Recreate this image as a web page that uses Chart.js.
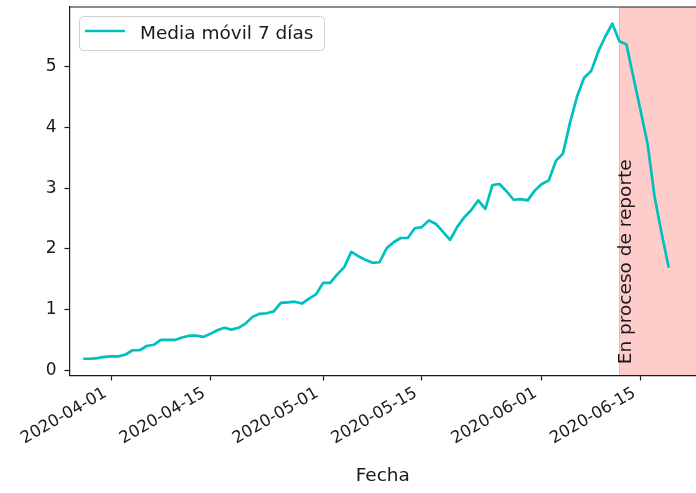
<!DOCTYPE html>
<html><head><meta charset="utf-8">
<script src="https://cdn.jsdelivr.net/npm/chart.js@4.4.1/dist/chart.umd.min.js"></script>
<style>html,body{margin:0;padding:0;background:#fff;overflow:hidden}</style>
</head><body>
<canvas id="c" width="696" height="493"></canvas>
<script>
// ---- data ----
const dates = [
 '2020-03-28','2020-03-29','2020-03-30','2020-03-31','2020-04-01','2020-04-02','2020-04-03','2020-04-04','2020-04-05','2020-04-06',
 '2020-04-07','2020-04-08','2020-04-09','2020-04-10','2020-04-11','2020-04-12','2020-04-13','2020-04-14','2020-04-15','2020-04-16',
 '2020-04-17','2020-04-18','2020-04-19','2020-04-20','2020-04-21','2020-04-22','2020-04-23','2020-04-24','2020-04-25','2020-04-26',
 '2020-04-27','2020-04-28','2020-04-29','2020-04-30','2020-05-01','2020-05-02','2020-05-03','2020-05-04','2020-05-05','2020-05-06',
 '2020-05-07','2020-05-08','2020-05-09','2020-05-10','2020-05-11','2020-05-12','2020-05-13','2020-05-14','2020-05-15','2020-05-16',
 '2020-05-17','2020-05-18','2020-05-19','2020-05-20','2020-05-21','2020-05-22','2020-05-23','2020-05-24','2020-05-25','2020-05-26',
 '2020-05-27','2020-05-28','2020-05-29','2020-05-30','2020-05-31','2020-06-01','2020-06-02','2020-06-03','2020-06-04','2020-06-05',
 '2020-06-06','2020-06-07','2020-06-08','2020-06-09','2020-06-10','2020-06-11','2020-06-12','2020-06-13','2020-06-14','2020-06-15',
 '2020-06-16','2020-06-17','2020-06-18','2020-06-19'
];
const movingAvg = [
 0.19,0.19,0.20,0.22,0.23,0.23,0.26,0.33,0.33,0.40,
 0.42,0.50,0.50,0.50,0.54,0.57,0.57,0.55,0.60,0.66,
 0.70,0.67,0.70,0.77,0.88,0.93,0.94,0.97,1.11,1.12,
 1.13,1.10,1.18,1.25,1.44,1.44,1.58,1.70,1.95,1.88,
 1.82,1.77,1.78,2.01,2.11,2.18,2.18,2.34,2.36,2.47,
 2.41,2.28,2.15,2.36,2.52,2.64,2.80,2.66,3.05,3.07,
 2.95,2.81,2.82,2.80,2.96,3.07,3.13,3.45,3.57,4.08,
 4.51,4.82,4.93,5.25,5.50,5.71,5.42,5.37,4.82,4.28,
 3.73,2.85,2.25,1.69
];
const seriesLabel = 'Media móvil 7 días';
const xTickDates = ['2020-04-01','2020-04-15','2020-05-01','2020-05-15','2020-06-01','2020-06-15'];
const yTickValues = [0,1,2,3,4,5];
const spanStart = '2020-06-12';
const spanEnd = '2020-06-30';
const spanText = 'En proceso de reporte';
const xAxisTitle = 'Fecha';

// ---- helpers ----
const REF = Date.UTC(2020,3,1);
function dayNum(s){ const p=s.split('-').map(Number); return (Date.UTC(p[0],p[1]-1,p[2])-REF)/86400000; }
const points = dates.map((d,i)=>({x: dayNum(d), y: movingAvg[i]}));
const xTickVals = xTickDates.map(dayNum);

const FONT = 'DejaVu Sans';
const LINE_COLOR = '#00bfbf';
const AX = '#1a1a1a';

const decor = {
  id: 'decor',
  beforeDatasetsDraw(chart){
    const {ctx, chartArea:a, scales:{x,y}} = chart;
    const x0 = x.getPixelForValue(dayNum(spanStart));
    const x1 = Math.min(x.getPixelForValue(dayNum(spanEnd)), a.right);
    ctx.save();
    ctx.beginPath(); ctx.rect(a.left, a.top, a.right-a.left, a.bottom-a.top); ctx.clip();
    ctx.fillStyle = 'rgba(255,0,0,0.2)';
    ctx.fillRect(x0, a.top, x1-x0, a.bottom-a.top);
    ctx.strokeStyle = 'rgba(255,0,0,0.22)'; ctx.lineWidth = 1;
    ctx.beginPath(); ctx.moveTo(Math.round(x0)+0.5, a.top); ctx.lineTo(Math.round(x0)+0.5, a.bottom); ctx.stroke();
    ctx.translate(x0 - 2, y.getPixelForValue(0.1));
    ctx.rotate(-Math.PI/2);
    ctx.fillStyle = '#1a1a1a';
    ctx.font = '18.5px "' + FONT + '"';
    ctx.textAlign = 'left'; ctx.textBaseline = 'top';
    ctx.fillText(spanText, 0, 0);
    ctx.restore();
  },
  afterDraw(chart){
    const {ctx, chartArea:a} = chart;
    ctx.save();
    ctx.strokeStyle = AX; ctx.lineWidth = 1.2;
    ctx.beginPath(); ctx.moveTo(a.left, a.top); ctx.lineTo(a.right, a.top); ctx.stroke();
    const lx=79.5, ly=16.5, lw=245, lh=34, r=4;
    ctx.beginPath();
    ctx.moveTo(lx+r,ly); ctx.lineTo(lx+lw-r,ly); ctx.quadraticCurveTo(lx+lw,ly,lx+lw,ly+r);
    ctx.lineTo(lx+lw,ly+lh-r); ctx.quadraticCurveTo(lx+lw,ly+lh,lx+lw-r,ly+lh);
    ctx.lineTo(lx+r,ly+lh); ctx.quadraticCurveTo(lx,ly+lh,lx,ly+lh-r);
    ctx.lineTo(lx,ly+r); ctx.quadraticCurveTo(lx,ly,lx+r,ly); ctx.closePath();
    ctx.fillStyle='rgba(255,255,255,0.8)'; ctx.fill();
    ctx.strokeStyle='#d0d0d0'; ctx.lineWidth=1; ctx.stroke();
    ctx.strokeStyle = LINE_COLOR; ctx.lineWidth = 2.7;
    ctx.beginPath(); ctx.moveTo(85, 31); ctx.lineTo(125, 31); ctx.stroke();
    ctx.fillStyle = '#1a1a1a';
    ctx.font = '18.5px "' + FONT + '"';
    ctx.textAlign='left'; ctx.textBaseline='alphabetic';
    ctx.fillText(chart.data.datasets[0].label, 140, 38.5);
    ctx.restore();
  }
};

new Chart(document.getElementById('c'), {
  type: 'line',
  data: { datasets: [{
    label: seriesLabel, data: points,
    borderColor: LINE_COLOR, backgroundColor: LINE_COLOR,
    borderWidth: 2.7, pointRadius: 0, tension: 0,
    borderJoinStyle: 'round', fill: false
  }]},
  options: {
    responsive: false, animation: false, devicePixelRatio: 1,
    layout: { padding: { top: 7, left: 0, right: 0, bottom: 0 } },
    plugins: { legend: { display: false }, tooltip: { enabled: false } },
    scales: {
      x: {
        type: 'linear', min: -5.95, max: 82.86,
        afterBuildTicks: s => { s.ticks = xTickVals.map(v => ({value: v})); },
        afterFit: s => { s.height = 117.5; s.paddingLeft = 0; s.paddingRight = 0; },
        ticks: {
          autoSkip: false, minRotation: 30, maxRotation: 30,
          color: AX, font: { family: FONT, size: 16.5 }, padding: 3, labelOffset: -6,
          callback: (v) => { const i = xTickVals.indexOf(v); return i >= 0 ? xTickDates[i] : ''; }
        },
        grid: { display: true, drawOnChartArea: false, drawTicks: true, tickLength: 5, tickColor: AX, tickWidth: 1.2 },
        border: { display: true, color: AX, width: 1.2 },
        title: { display: true, text: xAxisTitle, color: AX, font: { family: FONT, size: 18.5 }, padding: { top: 4, bottom: 6 } }
      },
      y: {
        min: -0.086, max: 5.986,
        afterBuildTicks: s => { s.ticks = yTickValues.map(v => ({value: v})); },
        afterFit: s => { s.width = 69.5; s.paddingTop = 0; s.paddingBottom = 0; },
        ticks: { color: AX, font: { family: FONT, size: 17 }, padding: 8 },
        grid: { display: true, drawOnChartArea: false, drawTicks: true, tickLength: 5, tickColor: AX, tickWidth: 1.2 },
        border: { display: true, color: AX, width: 1.2 }
      }
    }
  },
  plugins: [decor]
});
</script>
</body></html>
